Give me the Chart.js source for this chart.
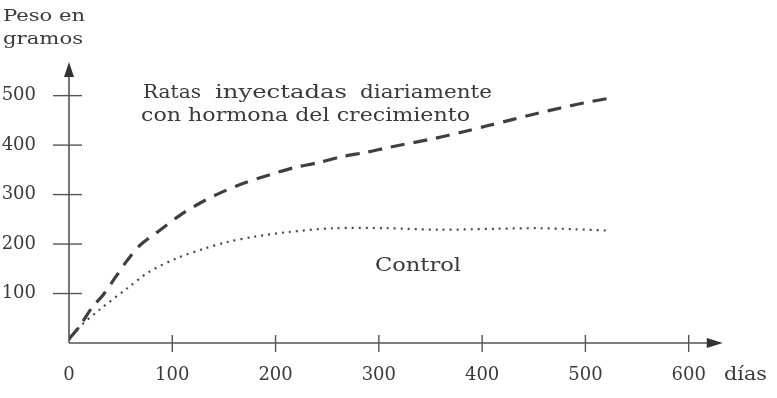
<!DOCTYPE html>
<html>
<head>
<meta charset="utf-8">
<script src="https://cdn.jsdelivr.net/npm/chart.js@4.4.1/dist/chart.umd.min.js"></script>
<style>
  html, body { margin: 0; padding: 0; background: #fff; }
  #wrap { width: 777px; height: 398px; position: relative; }
</style>
</head>
<body>
<div id="wrap"><canvas id="grafico"></canvas></div>
<script>
// Datos
const diasHormona = [0, 11, 22, 33, 45, 56, 69, 88, 108, 127, 146, 169, 193, 217, 240, 263, 289, 311, 355, 382, 405, 430, 453, 476, 498, 521];
const pesoHormona = [8, 36, 71, 97, 133, 166, 198, 228, 259, 283, 303, 323, 339, 354, 364, 376, 386, 396, 414, 427, 439, 452, 464, 475, 485, 494];

const diasControl = [0, 10, 30, 56, 77, 105, 130, 153, 180, 211, 256, 308, 359, 415, 453, 490, 524];
const pesoControl = [6, 32, 68, 110, 143, 172, 190, 204, 215, 224, 232, 232, 229, 231, 232, 230, 227];

const ticksX = [0, 100, 200, 300, 400, 500, 600];
const ticksY = [100, 200, 300, 400, 500];

const TINTA = "#3a3a3a";
const FUENTE = "'DejaVu Serif', serif";

const toPoints = (xs, ys) => xs.map((x, i) => ({ x: x, y: ys[i] }));

// Texto estirado horizontalmente para ocupar el ancho deseado
const fitText = (ctx, text, x, y, width) => {
  const w = ctx.measureText(text).width;
  ctx.save();
  ctx.translate(x, y);
  ctx.scale(width / w, 1);
  ctx.fillText(text, 0, 0);
  ctx.restore();
};

// Ejes con flechas, marcas y textos
const ejesPlugin = {
  id: "ejes",
  afterDraw(chart) {
    const ctx = chart.ctx;
    const sx = chart.scales.x;
    const sy = chart.scales.y;
    const x0 = sx.getPixelForValue(0);
    const y0 = sy.getPixelForValue(0);
    const xEnd = sx.getPixelForValue(633);
    const yTop = sy.getPixelForValue(568);

    ctx.save();
    ctx.strokeStyle = "#555";
    ctx.fillStyle = "#333";
    ctx.lineWidth = 1.6;

    // eje y
    ctx.beginPath();
    ctx.moveTo(x0, y0);
    ctx.lineTo(x0, yTop + 12);
    ctx.stroke();
    ctx.beginPath();
    ctx.moveTo(x0, yTop);
    ctx.lineTo(x0 - 5, yTop + 15);
    ctx.lineTo(x0 + 5, yTop + 15);
    ctx.closePath();
    ctx.fill();

    // eje x
    ctx.beginPath();
    ctx.moveTo(x0, y0);
    ctx.lineTo(xEnd - 12, y0);
    ctx.stroke();
    ctx.beginPath();
    ctx.moveTo(xEnd, y0);
    ctx.lineTo(xEnd - 16, y0 - 5);
    ctx.lineTo(xEnd - 16, y0 + 5);
    ctx.closePath();
    ctx.fill();

    // marcas
    ctx.lineWidth = 1.4;
    ticksY.forEach((v) => {
      const py = sy.getPixelForValue(v);
      ctx.beginPath();
      ctx.moveTo(x0 - 16, py);
      ctx.lineTo(x0 + 13, py);
      ctx.stroke();
    });
    ticksX.forEach((v) => {
      if (v === 0) return;
      const px = sx.getPixelForValue(v);
      ctx.beginPath();
      ctx.moveTo(px, y0 - 8);
      ctx.lineTo(px, y0 + 9);
      ctx.stroke();
    });

    // textos
    ctx.fillStyle = TINTA;
    ctx.textBaseline = "middle";
    ctx.textAlign = "left";
    ctx.font = "17px " + FUENTE;
    fitText(ctx, "Peso en", 3, 17, 82);
    fitText(ctx, "gramos", 3, 40, 80);

    ctx.font = "18px " + FUENTE;
    fitText(ctx, "días", 724, 375, 43);

    fitText(ctx, "Ratas", 143, 93, 58);
    fitText(ctx, "inyectadas", 215, 93, 132);
    fitText(ctx, "diariamente", 360, 93, 132);
    fitText(ctx, "con hormona del crecimiento", 141, 116, 329);
    fitText(ctx, "Control", 375, 266, 86);
    ctx.restore();
  },
};

new Chart(document.getElementById("grafico"), {
  type: "line",
  plugins: [ejesPlugin],
  data: {
    datasets: [
      {
        label: "Ratas inyectadas diariamente con hormona del crecimiento",
        data: toPoints(diasHormona, pesoHormona),
        borderColor: "#3f3f3f",
        borderWidth: 3.2,
        borderDash: [14, 9],
        pointRadius: 0,
        tension: 0.3,
        fill: false,
      },
      {
        label: "Control",
        data: toPoints(diasControl, pesoControl),
        borderColor: "#4a4a4a",
        borderWidth: 2.2,
        borderDash: [2, 5],
        pointRadius: 0,
        tension: 0.3,
        fill: false,
      },
    ],
  },
  options: {
    responsive: true,
    maintainAspectRatio: false,
    animation: false,
    layout: { padding: { top: 61, right: 47, left: 0, bottom: 0 } },
    plugins: {
      legend: { display: false },
      tooltip: { enabled: false },
    },
    scales: {
      x: {
        type: "linear",
        min: 0,
        max: 640,
        grid: { display: false },
        border: { display: false },
        afterFit: (scale) => { scale.height = 55; },
        afterBuildTicks: (scale) => { scale.ticks = ticksX.map((v) => ({ value: v })); },
        ticks: {
          color: TINTA,
          font: { family: FUENTE, size: 18 },
          padding: 14,
          maxRotation: 0,
          autoSkip: false,
        },
      },
      y: {
        min: 0,
        max: 570,
        grid: { display: false },
        border: { display: false },
        afterFit: (scale) => { scale.width = 69; },
        afterBuildTicks: (scale) => { scale.ticks = ticksY.map((v) => ({ value: v })); },
        ticks: {
          color: TINTA,
          font: { family: FUENTE, size: 18 },
          padding: 25,
        },
      },
    },
  },
});
</script>
</body>
</html>
